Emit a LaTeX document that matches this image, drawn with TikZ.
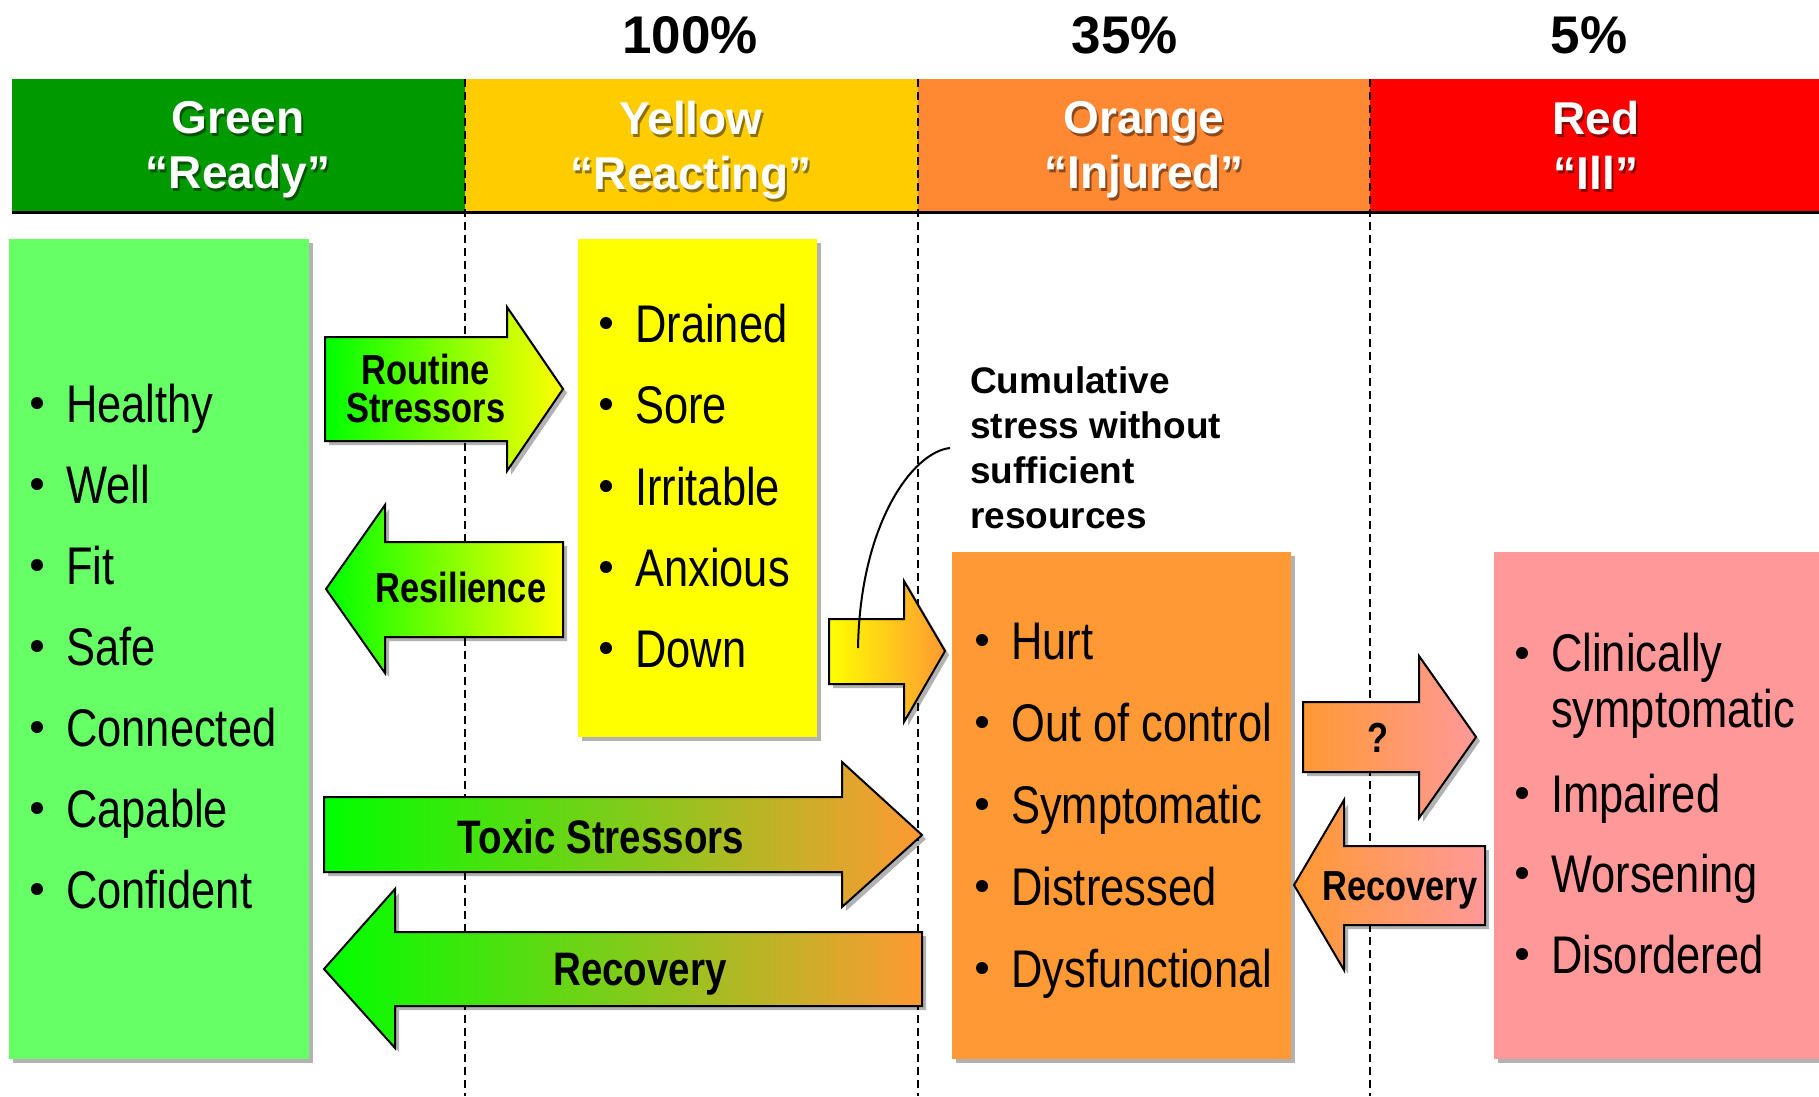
\documentclass[tikz,border=0pt]{standalone}
\usepackage{fontspec}
\setmainfont{Liberation Sans}
\newfontfamily\narrowfont[FakeStretch=0.82]{Liberation Sans}
\usetikzlibrary{shadows}
\definecolor{hgreen}{HTML}{009900}
\definecolor{hyellow}{HTML}{FFCC00}
\definecolor{horange}{HTML}{FF8833}
\definecolor{hred}{HTML}{FF0000}
\definecolor{bgreen}{HTML}{66FF66}
\definecolor{byellow}{HTML}{FFFF00}
\definecolor{borange}{HTML}{FF9933}
\definecolor{bpink}{HTML}{FF9999}
\definecolor{agreen}{HTML}{00FF00}
\definecolor{amid}{HTML}{BCE01E}
\tikzset{
  softshadow/.style={drop shadow={shadow xshift=4pt, shadow yshift=-4pt, opacity=0.3, fill=black}},
  listbox/.style={inner sep=0pt, outer sep=0pt, anchor=north west, softshadow},
  blockarrow/.style={draw=black, line width=2pt, line join=miter, softshadow},
  item/.style={font=\narrowfont\fontsize{53}{56}\selectfont, inner sep=0pt, anchor=base west},
  alabel/.style={font=\narrowfont\bfseries\fontsize{#1}{35}\selectfont, inner sep=0pt, anchor=base},
  hdr/.style={font=\bfseries\fontsize{46}{55}\selectfont, inner sep=0pt, anchor=north, align=center, text=white},
  hdrsh/.style={font=\bfseries\fontsize{46}{55}\selectfont, inner sep=0pt, anchor=north, align=center, text=black, opacity=0.45},
  pct/.style={font=\bfseries\fontsize{53}{60}\selectfont, inner sep=0pt, anchor=base},
  divider/.style={draw=black, line width=1.6pt, dash pattern=on 8pt off 5pt},
}
\newcommand\bitem[4]{%
  \fill (#1-29,#2-19) circle[radius=6pt];
  \node[item] (#3) at (#1,#2) {#4};}
\begin{document}
\begin{tikzpicture}[x=1pt, y=-1pt]
\useasboundingbox (0,0) rectangle (1819,1096);
\fill[white] (0,0) rectangle (1819,1096);

% header bar
\fill[hgreen]  (12,79)   rectangle (465,211);
\fill[hyellow] (465,79)  rectangle (918,211);
\fill[horange] (918,79)  rectangle (1370,211);
\fill[hred]    (1370,79) rectangle (1819,211);
\draw[line width=3pt] (12,212) -- (1819,212);

% column dividers
\coordinate (d1t) at (465,79);   \coordinate (d1b) at (465,1096);
\coordinate (d2t) at (918,79);   \coordinate (d2b) at (918,1096);
\coordinate (d3t) at (1370,79);  \coordinate (d3b) at (1370,1096);
\draw[divider] (d1t) -- (d1b);
\draw[divider] (d2t) -- (d2b);
\draw[divider] (d3t) -- (d3b);

% percentages
\node[pct] (p1) at (690,53) {100\%};
\node[pct] (p2) at (1125,53) {35\%};
\node[pct] (p3) at (1589,53) {5\%};

% header titles
\node[hdrsh] (hgs) at (240,104) {Green\\“Ready”};
\node[hdr]   (hg)  at (238,101) {Green\\“Ready”};
\node[hdrsh] (hys) at (693,104) {Yellow\\“Reacting”};
\node[hdr]   (hy)  at (691,101) {Yellow\\“Reacting”};
\node[hdrsh] (hos) at (1146,104) {Orange\\“Injured”};
\node[hdr]   (ho)  at (1144,101) {Orange\\“Injured”};
\node[hdrsh] (hrs) at (1598,104) {Red\\“Ill”};
\node[hdr]   (hr)  at (1596,101) {Red\\“Ill”};

% boxes
\node[listbox, fill=bgreen,  minimum width=300pt, minimum height=820pt] (gbox) at (9,239) {};
\node[listbox, fill=byellow, minimum width=239pt, minimum height=498pt] (ybox) at (578,239) {};
\node[listbox, fill=borange, minimum width=339pt, minimum height=507pt] (obox) at (952,552) {};
\node[listbox, fill=bpink,   minimum width=330pt, minimum height=507pt] (rbox) at (1494,552) {};

% green list
\bitem{66}{422}{g1}{Healthy}
\bitem{66}{503}{g2}{Well}
\bitem{66}{584}{g3}{Fit}
\bitem{66}{665}{g4}{Safe}
\bitem{66}{746}{g5}{Connected}
\bitem{66}{827}{g6}{Capable}
\bitem{66}{908}{g7}{Confident}

% yellow list
\bitem{635}{342}{y1}{Drained}
\bitem{635}{423}{y2}{Sore}
\bitem{635}{505}{y3}{Irritable}
\bitem{635}{586}{y4}{Anxious}
\bitem{635}{667}{y5}{Down}

% orange list
\bitem{1011}{659}{o1}{Hurt}
\bitem{1011}{741}{o2}{Out of control}
\bitem{1011}{823}{o3}{Symptomatic}
\bitem{1011}{905}{o4}{Distressed}
\bitem{1011}{987}{o5}{Dysfunctional}

% red list
\fill (1522,653) circle[radius=6pt];
\node[item, anchor=north west, align=left] (r1) at (1551,633) {Clinically\\symptomatic};
\bitem{1551}{812}{r2}{Impaired}
\bitem{1551}{892}{r3}{Worsening}
\bitem{1551}{973}{r4}{Disordered}

% arrows
\path[blockarrow, left color=agreen, right color=byellow]
  (325,337) -- (507,337) -- (507,307) -- (563,389) -- (507,471) -- (507,441) -- (325,441) -- cycle;
\node[font=\narrowfont\bfseries\fontsize{42}{38}\selectfont, inner sep=0pt, anchor=base] (routine) at (426,384) {Routine};
\node[font=\narrowfont\bfseries\fontsize{42}{38}\selectfont, inner sep=0pt, anchor=base] (stress) at (426,422) {Stressors};

\path[blockarrow, left color=agreen, right color=byellow]
  (563,542) -- (385,542) -- (385,505) -- (326,589) -- (385,673) -- (385,637) -- (563,637) -- cycle;
\node[alabel=42] (resil) at (461,602) {Resilience};

\path[blockarrow, left color=byellow, right color=borange]
  (829,619) -- (904,619) -- (904,581) -- (945,651) -- (904,722) -- (904,684) -- (829,684) -- cycle;

\path[blockarrow, left color=agreen, middle color=amid, right color=borange]
  (324,797) -- (842,797) -- (842,762) -- (922,835) -- (842,907) -- (842,872) -- (324,872) -- cycle;
\node[alabel=47] (toxic) at (601,853) {Toxic Stressors};

\path[blockarrow, left color=agreen, middle color=amid, right color=borange]
  (922,932) -- (395,932) -- (395,889) -- (324,969) -- (395,1048) -- (395,1006) -- (922,1006) -- cycle;
\node[alabel=47] (recbig) at (640,985) {Recovery};

\path[blockarrow, left color=borange, right color=bpink]
  (1303,702) -- (1419,702) -- (1419,656) -- (1476,737) -- (1419,818) -- (1419,772) -- (1303,772) -- cycle;
\node[alabel=42] (quest) at (1378,752) {?};

\path[blockarrow, left color=borange, right color=bpink]
  (1485,846) -- (1344,846) -- (1344,800) -- (1294,885) -- (1344,970) -- (1344,925) -- (1485,925) -- cycle;
\node[alabel=42] (recsmall) at (1400,900) {Recovery};

% cumulative stress note
\node[font=\bfseries\fontsize{37}{45}\selectfont, inner sep=0pt, anchor=north west, align=left] (note) at (970,366)
  {Cumulative\\stress without\\sufficient\\resources};
\coordinate (cstart) at (950,448);
\coordinate (cend) at (858,648);
\draw[line width=2pt] (cstart) .. controls (912,452) and (860,525) .. (cend);
\end{tikzpicture}
\end{document}
